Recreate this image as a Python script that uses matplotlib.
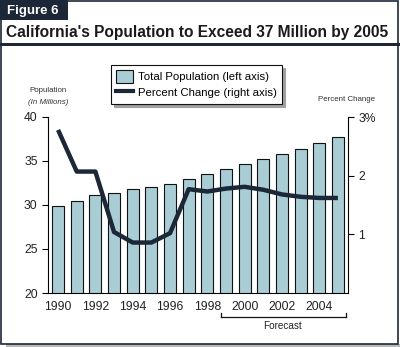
import matplotlib
matplotlib.use('Agg')
import matplotlib.pyplot as plt
from matplotlib.patches import Rectangle, Patch
from matplotlib.lines import Line2D

plt.rcParams['font.family'] = ['Liberation Sans', 'DejaVu Sans']

years = list(range(1990, 2006))
population = [29.9, 30.5, 31.1, 31.4, 31.8, 32.0, 32.35, 32.9,
              33.5, 34.05, 34.7, 35.25, 35.8, 36.4, 37.1, 37.7]
pct_change = [2.78, 2.07, 2.07, 1.04, 0.86, 0.86, 1.02, 1.77,
              1.73, 1.78, 1.81, 1.76, 1.68, 1.64, 1.62, 1.62]
year_ticks = [1990, 1992, 1994, 1996, 1998, 2000, 2002, 2004]
pop_ticks = [20, 25, 30, 35, 40]
pct_ticks = [1, 2, 3]
pct_labels = ['1', '2', '3%']

W, H = 400, 347
navy = '#1c2838'
bar_color = '#a9cdd4'
text_color = '#222222'

fig = plt.figure(figsize=(W / 100, H / 100), dpi=100)


def px(x, y):
    # pixel position measured from the top-left corner -> figure fraction
    return x / W, 1 - y / H


def box(x0, y0, x1, y1, **kw):
    fx, fy = px(x0, y1)
    fig.patches.append(Rectangle((fx, fy), (x1 - x0) / W, (y1 - y0) / H,
                                 transform=fig.transFigure, zorder=-5, **kw))


def hline(x0, x1, y, **kw):
    fig.add_artist(Line2D([x0 / W, x1 / W], [1 - y / H, 1 - y / H],
                          transform=fig.transFigure, **kw))


def vline(x, y0, y1, **kw):
    fig.add_artist(Line2D([x / W, x / W], [1 - y0 / H, 1 - y1 / H],
                          transform=fig.transFigure, **kw))


# frame, shadow and header
box(6, 344, 400, 347, facecolor='#b8b8b8', edgecolor='none')
box(1, 1, 398, 344, facecolor='white', edgecolor=navy, linewidth=1.2)
box(0, 43, 400, 46, facecolor=navy, edgecolor='none')
box(0, 0, 68, 20, facecolor=navy, edgecolor='none')
fig.text(*px(7, 11), 'Figure 6', color='white', fontsize=9.5,
         fontweight='bold', va='center', ha='left')
fig.text(*px(6, 32), "California's Population to Exceed 37 Million by 2005",
         color='#1a1a1a', fontsize=11.2, fontweight='bold', va='center', ha='left')

# main axes
ax = fig.add_axes([48 / W, 54 / H, 300 / W, 176 / H])
ax.patch.set_alpha(0)
ax.bar(years, population, width=0.64, color=bar_color, edgecolor='#111111',
       linewidth=0.8, zorder=2)
ax.set_xlim(1989.46, 2005.54)
ax.set_ylim(20, 40)
ax.set_yticks(pop_ticks)
ax.set_xticks(year_ticks)
ax.tick_params(axis='x', length=0, pad=6, labelsize=8.7, labelcolor=text_color)
ax.tick_params(axis='y', length=4, width=0.8, labelsize=8.7, labelcolor=text_color)
for side in ['top', 'right']:
    ax.spines[side].set_visible(False)
for side in ['left', 'bottom']:
    ax.spines[side].set_linewidth(0.8)

ax2 = ax.twinx()
ax2.plot(years, pct_change, color=navy, linewidth=3.2, solid_joinstyle='round',
         solid_capstyle='butt', zorder=3)
ax2.set_ylim(0, 3)
ax2.set_yticks(pct_ticks)
ax2.set_yticklabels(pct_labels)
ax2.tick_params(axis='y', length=4, width=0.8, labelsize=8.7, labelcolor=text_color)
for side in ['top', 'left', 'bottom']:
    ax2.spines[side].set_visible(False)
ax2.spines['right'].set_linewidth(0.8)

# axis titles
fig.text(*px(48, 91), 'Population', fontsize=5.7, color='#333333',
         ha='center', va='center')
fig.text(*px(48, 102), '(In Millions)', fontsize=5.7, color='#333333',
         ha='center', va='center', style='italic')
fig.text(*px(346, 100), 'Percent Change', fontsize=5.7, color='#333333',
         ha='center', va='center')

# forecast bracket
hline(221, 346, 317, color='#111111', linewidth=0.9)
vline(221, 313, 317, color='#111111', linewidth=0.9)
vline(346, 313, 317, color='#111111', linewidth=0.9)
fig.text(*px(283, 326), 'Forecast', fontsize=7.2, color=text_color,
         ha='center', va='center')

handles = [Patch(facecolor=bar_color, edgecolor='#111111', linewidth=0.8),
           Line2D([], [], color=navy, linewidth=3)]
leg = fig.legend(handles, ['Total Population (left axis)',
                           'Percent Change (right axis)'],
                 loc='upper left', bbox_to_anchor=px(111, 65),
                 bbox_transform=fig.transFigure, fontsize=8.2, frameon=True,
                 fancybox=False, edgecolor='#111111', framealpha=1,
                 shadow={'color': '#a0a0a0', 'alpha': 1},
                 handlelength=1.5, handleheight=1.4, handletextpad=0.5,
                 labelspacing=0.3, borderpad=0.4, borderaxespad=0)
leg.get_frame().set_linewidth(0.8)

fig.savefig('out.png', dpi=100)
